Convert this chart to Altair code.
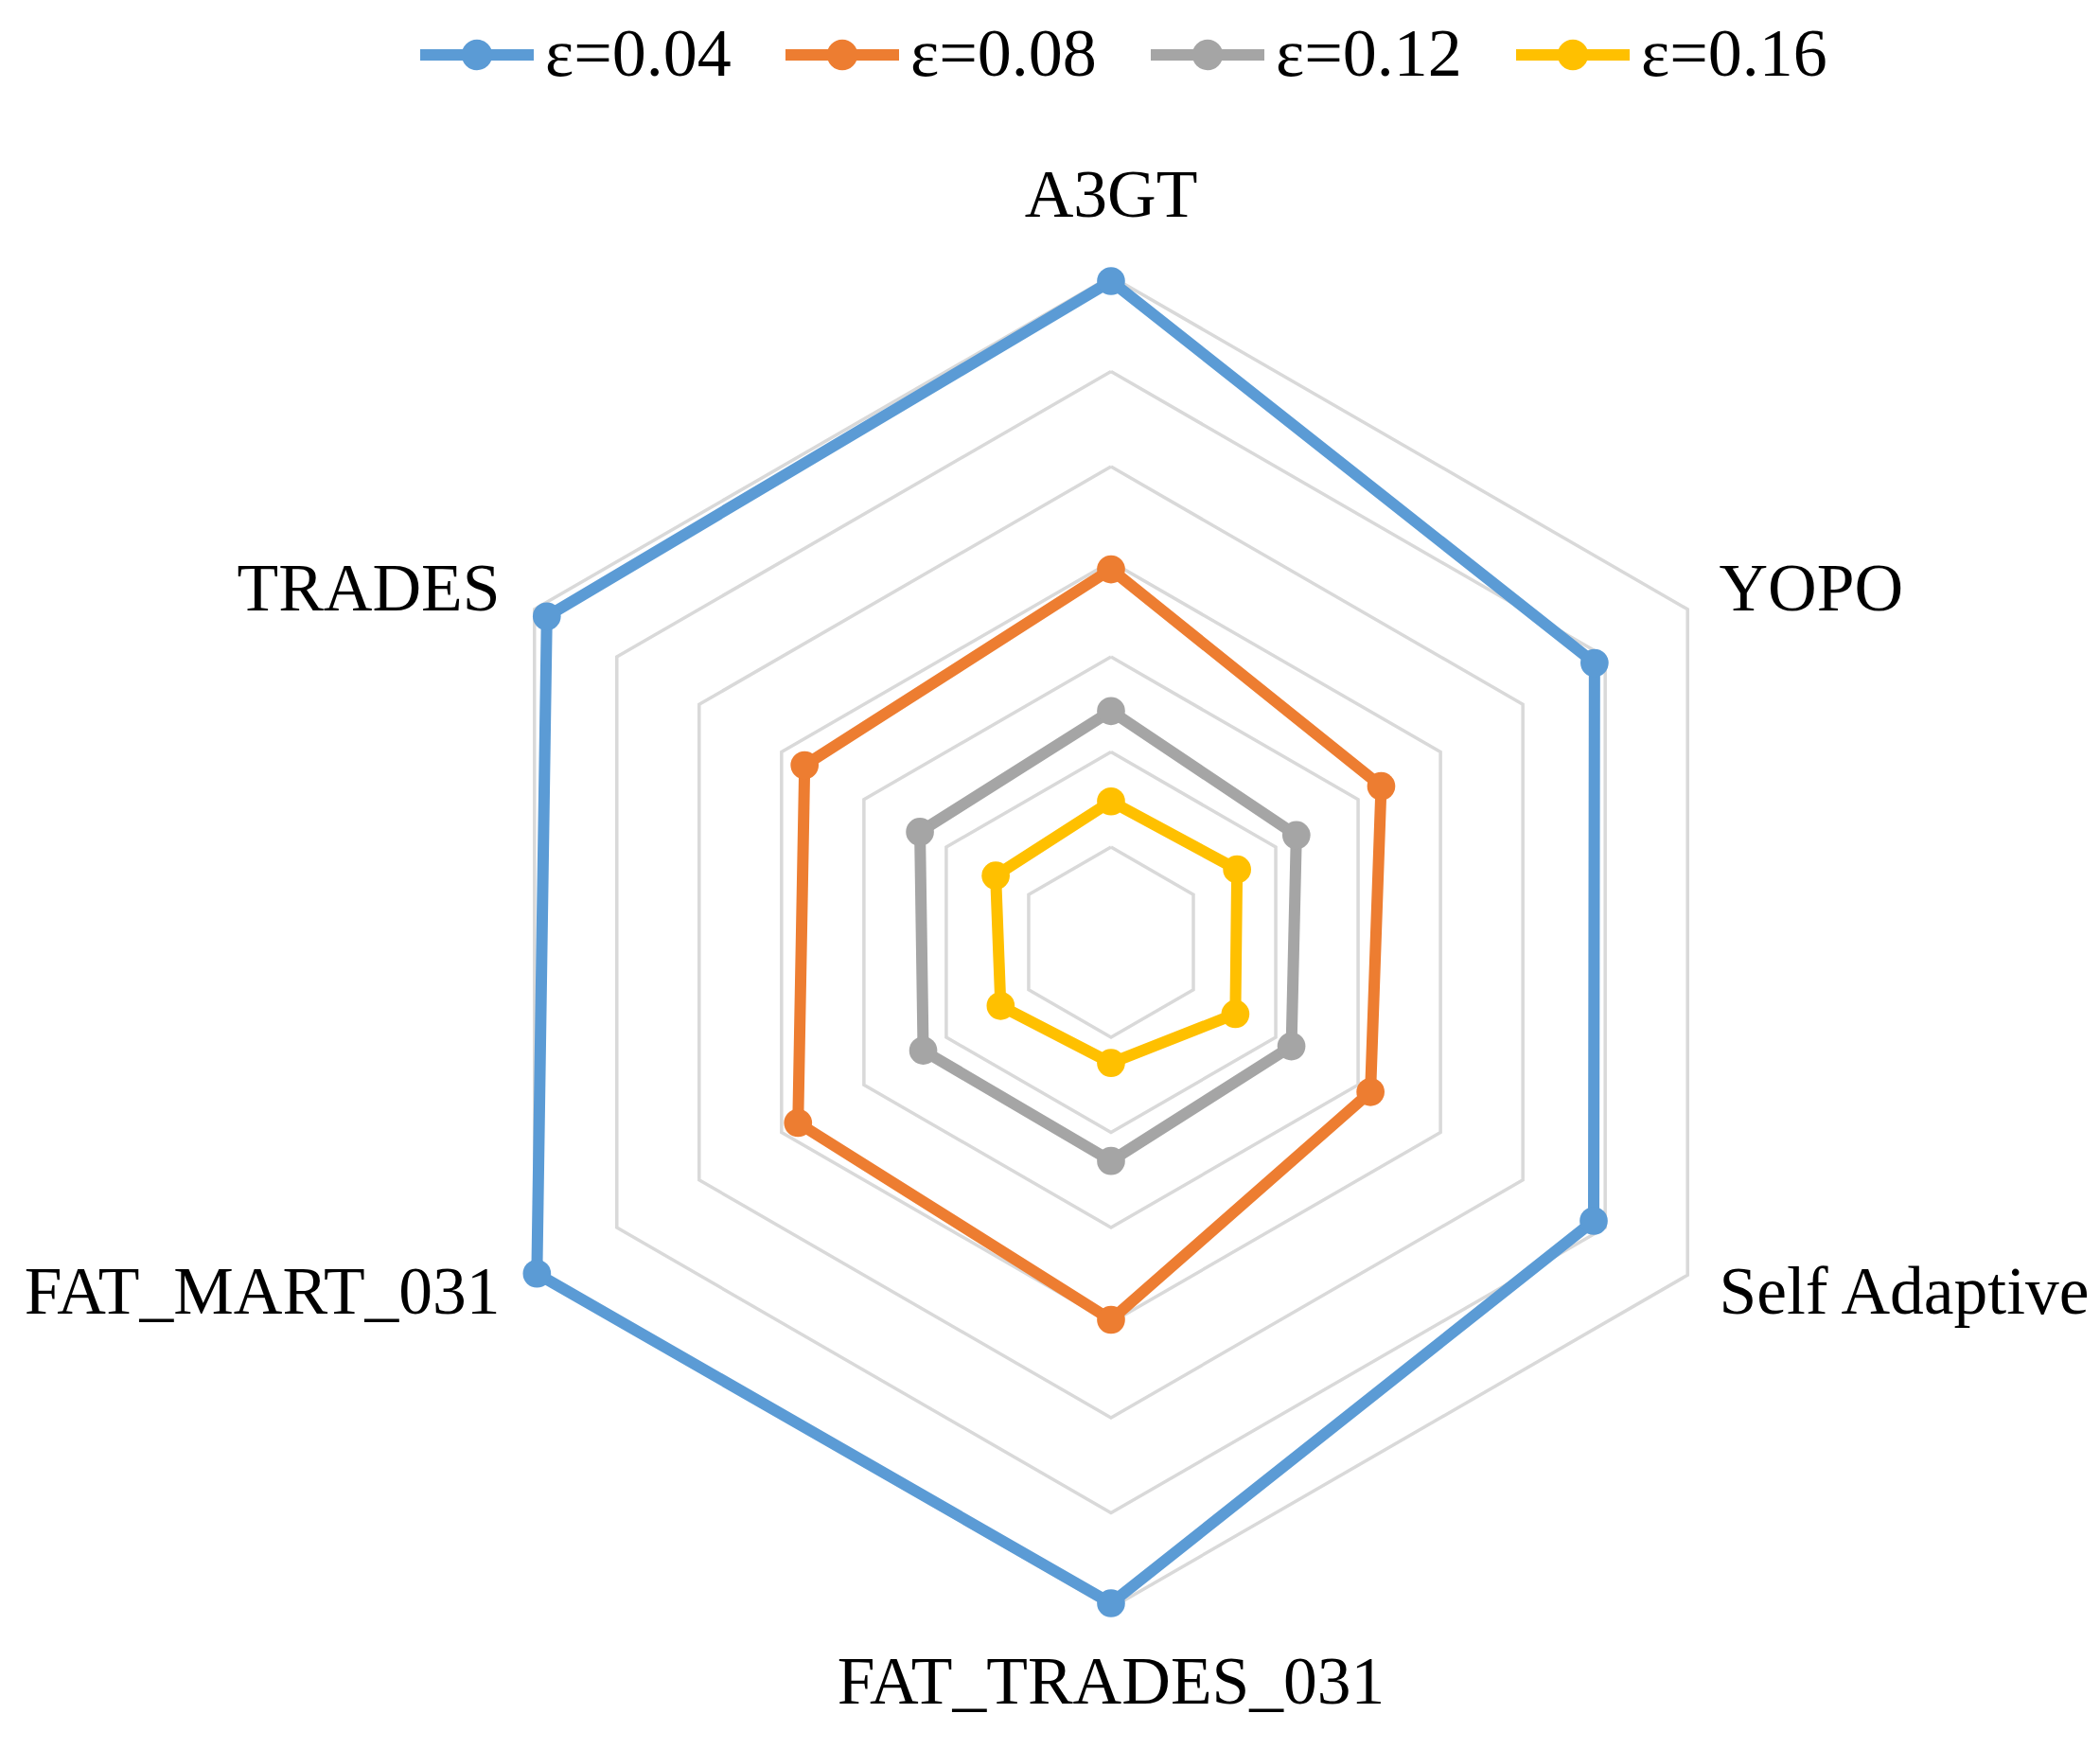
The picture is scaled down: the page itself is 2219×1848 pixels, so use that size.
import altair as alt
import pandas as pd

# ---- data ----
categories = ["A3GT", "YOPO", "Self Adaptive", "FAT_TRADES_031", "FAT_MART_031", "TRADES"]
series = ["ε=0.04", "ε=0.08", "ε=0.12", "ε=0.16"]
eps_004 = [6.95, 5.87, 5.86, 6.95, 6.97, 6.85]
eps_008 = [3.92, 3.28, 3.15, 3.97, 3.80, 3.72]
eps_012 = [2.43, 2.25, 2.19, 2.30, 2.28, 2.32]
eps_016 = [1.48, 1.53, 1.51, 1.27, 1.34, 1.40]
grid_levels = [1, 2, 3, 4, 5, 6, 7]
colors = ["#5B9BD5", "#ED7D31", "#A5A5A5", "#FFC000"]

n = len(categories)
series_values = [eps_004, eps_008, eps_012, eps_016]

rows = []
for s_i, (s, vals) in enumerate(zip(series, series_values)):
    for i in range(n + 1):
        rows.append({"series": s, "sorder": s_i, "idx": i,
                     "category": categories[i % n], "value": vals[i % n]})
df = pd.DataFrame(rows)

grid_rows = []
for lv in grid_levels:
    for i in range(n + 1):
        grid_rows.append({"level": lv, "idx": i})
grid_df = pd.DataFrame(grid_rows)

label_df = pd.DataFrame({"category": categories, "idx": list(range(n))})

W, H = 2200, 1830
XMIN, XMAX = -11.602, 10.289
YMIN, YMAX = -8.383, 9.826
xs = alt.Scale(domain=[XMIN, XMAX], nice=False, zero=False)
ys = alt.Scale(domain=[YMIN, YMAX], nice=False, zero=False)
NSTEP = f"(2*PI/{n})"

color_scale = alt.Scale(domain=series, range=colors)
legend_symbol = "M-1,0L1,0M-0.17,0A0.17,0.17,0,1,1,0.17,0A0.17,0.17,0,1,1,-0.17,0Z"
legend = alt.Legend(
    title=None, orient="none", legendX=430, legendY=-16, direction="horizontal",
    symbolType=legend_symbol, symbolSize=14400, symbolStrokeWidth=12,
    labelFont="Liberation Serif", labelFontSize=72, labelColor="black",
    labelOffset=6, columnPadding=33, labelLimit=600, padding=0,
)

grid = alt.Chart(grid_df).transform_calculate(
    gx=f"datum.level*sin(datum.idx*{NSTEP})",
    gy=f"datum.level*cos(datum.idx*{NSTEP})",
).mark_line(stroke="#D9D9D9", strokeWidth=3.5).encode(
    x=alt.X("gx:Q", scale=xs, axis=None),
    y=alt.Y("gy:Q", scale=ys, axis=None),
    detail="level:N",
    order="idx:Q",
)

base = alt.Chart(df).transform_calculate(
    px=f"datum.value*sin(datum.idx*{NSTEP})",
    py=f"datum.value*cos(datum.idx*{NSTEP})",
)

lines = base.mark_line(strokeWidth=12, strokeJoin="round").encode(
    x=alt.X("px:Q", scale=xs, axis=None),
    y=alt.Y("py:Q", scale=ys, axis=None),
    stroke=alt.Stroke("series:N", scale=color_scale, legend=legend),
    detail="series:N",
    order="idx:Q",
)

points = base.transform_filter(f"datum.idx < {n}").mark_circle(size=880, opacity=1).encode(
    x=alt.X("px:Q", scale=xs, axis=None),
    y=alt.Y("py:Q", scale=ys, axis=None),
    fill=alt.Fill("series:N", scale=color_scale, legend=legend),
)

lab = alt.Chart(label_df).transform_calculate(
    s=f"sin(datum.idx*{NSTEP})",
    c=f"cos(datum.idx*{NSTEP})",
).transform_calculate(
    lx="7*datum.s + (datum.s > 0.1 ? 0.33 : (datum.s < -0.1 ? -0.36 : 0))",
    ly="abs(datum.s) < 0.1 ? (datum.c > 0 ? 7.84 : -7.8) : 7*datum.c + (datum.c > 0 ? 0.2 : -0.2)",
)

def label_layer(cond, align):
    return lab.transform_filter(cond).mark_text(
        align=align, baseline="middle", font="Liberation Serif", fontSize=71.5, color="black"
    ).encode(
        x=alt.X("lx:Q", scale=xs, axis=None),
        y=alt.Y("ly:Q", scale=ys, axis=None),
        text="category:N",
    )

labels = (label_layer("datum.s > 0.1", "left")
          + label_layer("datum.s < -0.1", "right")
          + label_layer("abs(datum.s) <= 0.1", "center"))

chart = alt.layer(grid, lines, points, labels).properties(
    width=W, height=H, padding=0,
    autosize=alt.AutoSizeParams(type="none"),
    background="white",
).configure_view(stroke=None)

chart.save("out.html", embed_options={"renderer": "svg", "actions": False})
